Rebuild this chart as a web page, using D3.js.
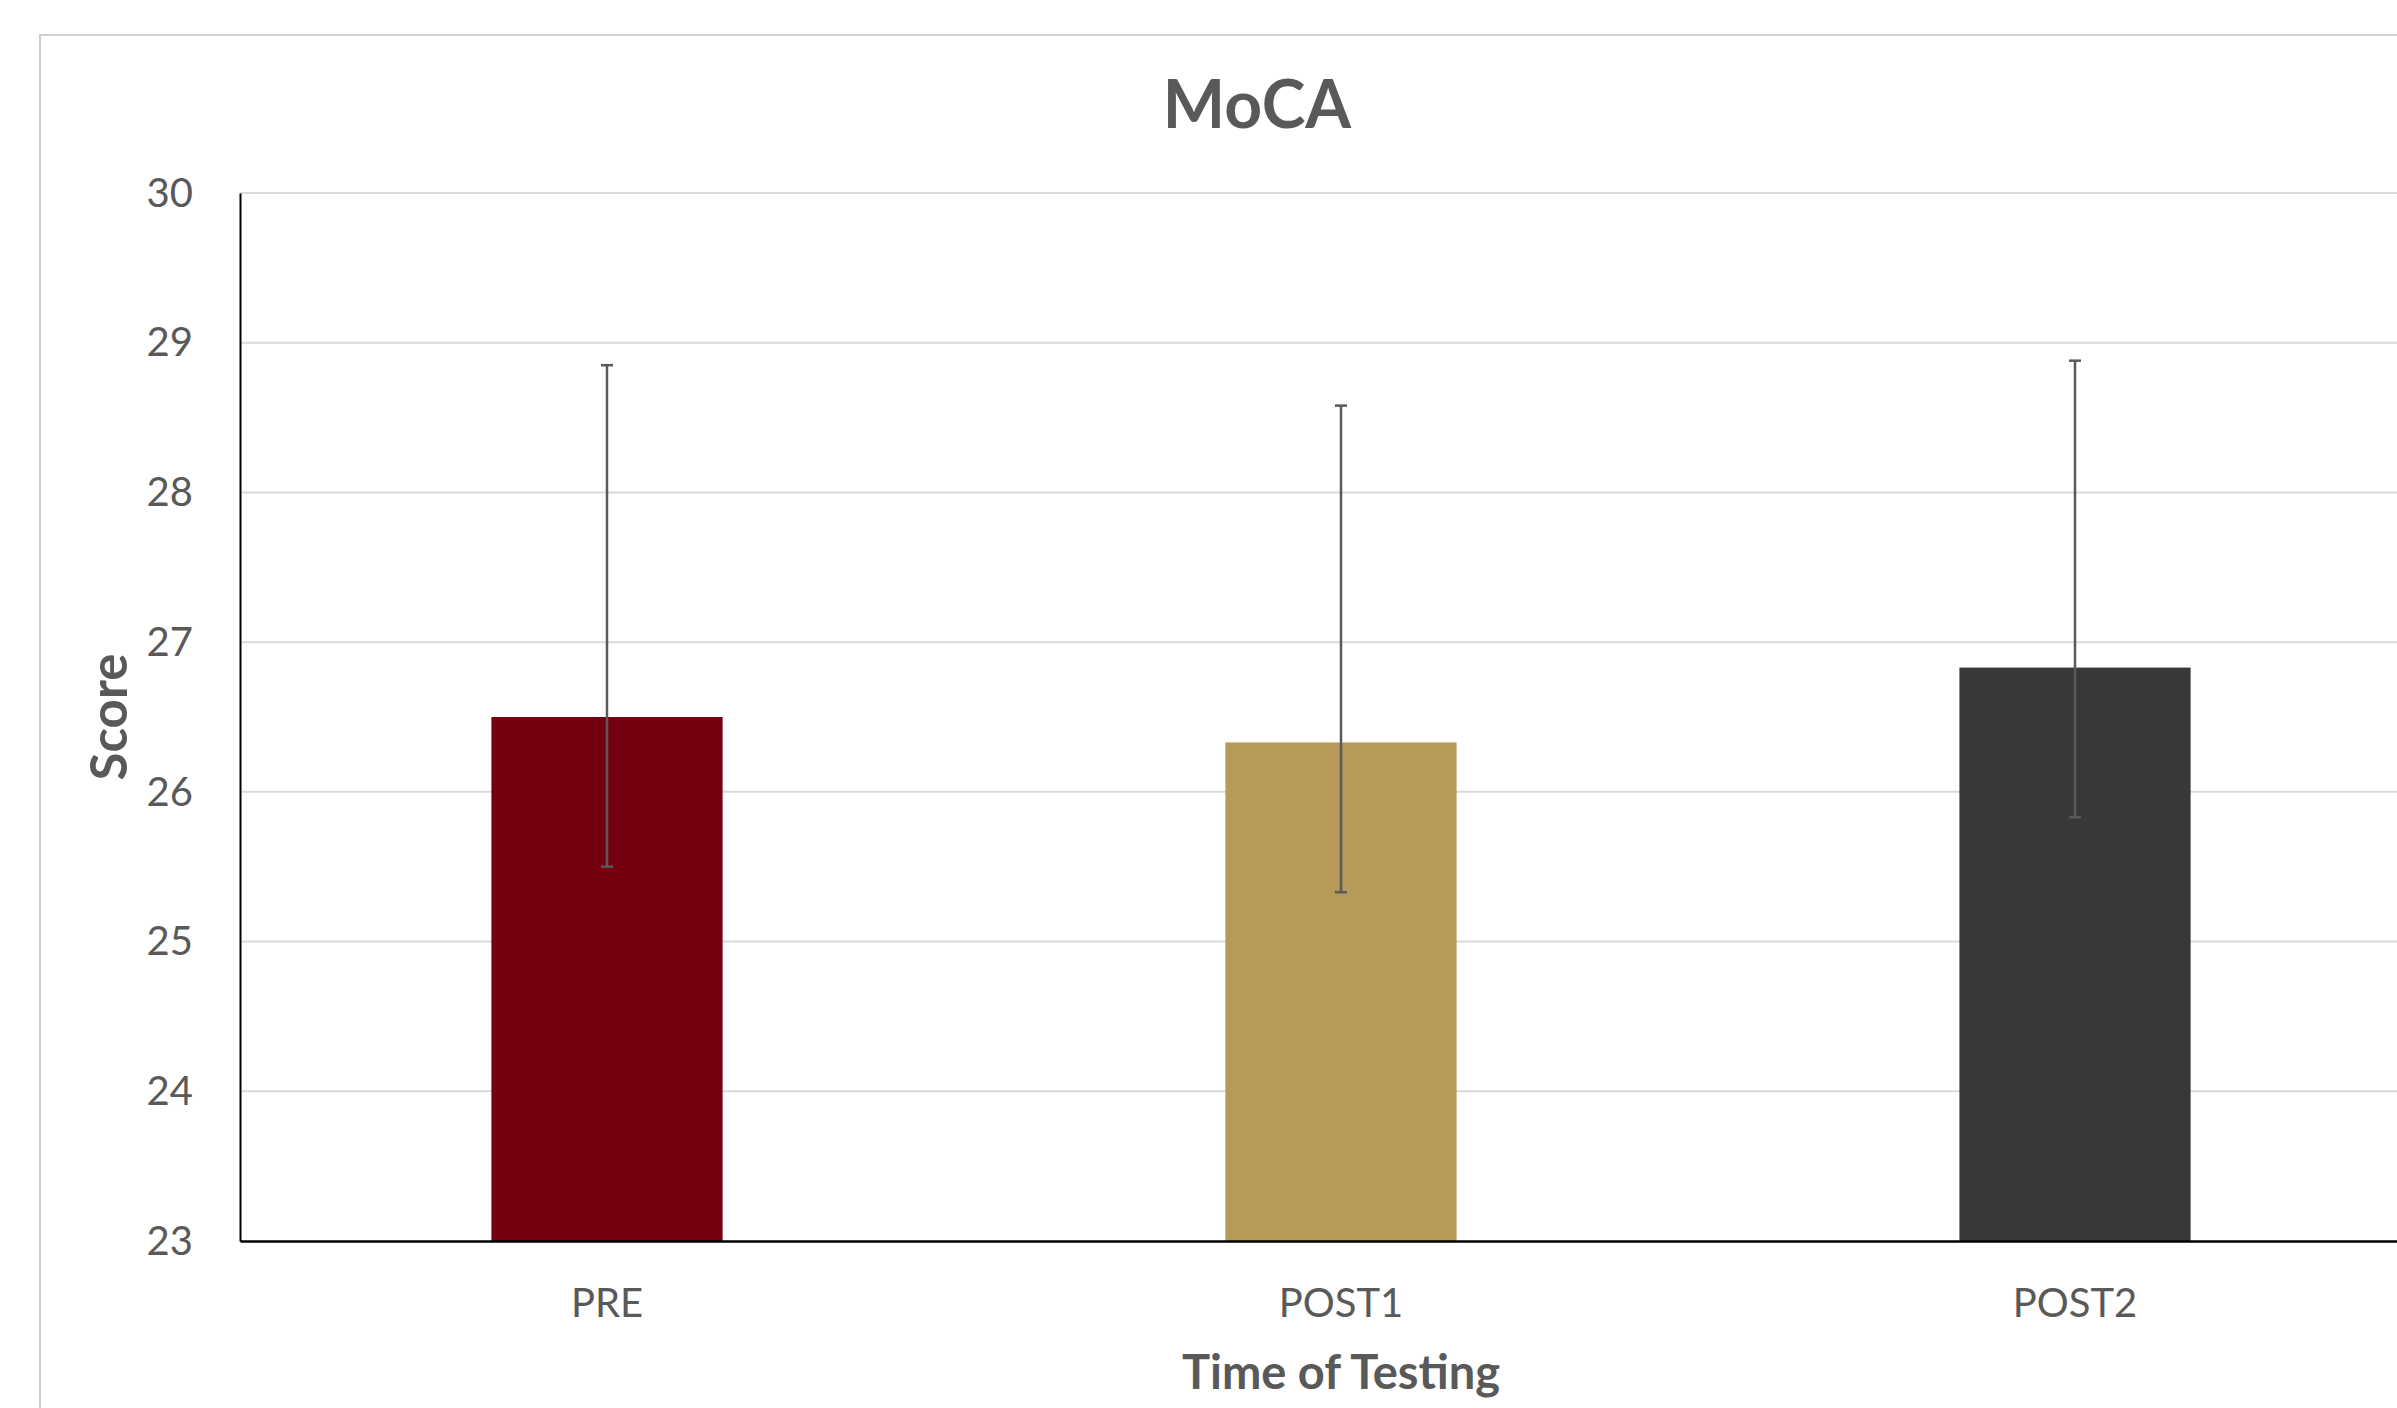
<!DOCTYPE html>
<html>
<head>
<meta charset="utf-8">
<script src="https://cdn.jsdelivr.net/npm/d3@7"></script>
<style>
  html, body { margin: 0; padding: 0; background: #fff; }
  svg { display: block; font-family: Lato, "Open Sans", sans-serif; }
</style>
</head>
<body>
<svg id="chart" width="2397" height="1408"></svg>
<script>
const categories = ["PRE", "POST1", "POST2"];
const means = [26.5, 26.33, 26.83];
const errUp = [2.35, 2.25, 2.05];
const errDown = [1.0, 1.0, 1.0];
const barColors = ["#740010", "#B59A58", "#3A3837"];
const yTicks = [23, 24, 25, 26, 27, 28, 29, 30];
const chartTitle = "MoCA";
const xTitle = "Time of Testing";
const yTitle = "Score";

const svg = d3.select("#chart");
const textColor = "#595959";

const plot = { left: 240, right: 2442, top: 193, bottom: 1241 };

// chart border (left and top visible)
svg.append("path")
  .attr("d", `M40,1410 L40,35 L2500,35`)
  .attr("fill", "none")
  .attr("stroke", "#cfcfcf")
  .attr("stroke-width", 2);

const x = d3.scaleBand()
  .domain(categories)
  .range([plot.left, plot.right])
  .paddingInner(0.685)
  .paddingOuter(0.3425);

const y = d3.scaleLinear()
  .domain([23, 30])
  .range([plot.bottom, plot.top]);

// gridlines
svg.append("g")
  .selectAll("line")
  .data(yTicks.filter(t => t !== 23))
  .join("line")
  .attr("x1", plot.left)
  .attr("x2", plot.right)
  .attr("y1", d => y(d))
  .attr("y2", d => y(d))
  .attr("stroke", "#d9d9d9")
  .attr("stroke-width", 2);

// bars
svg.append("g")
  .selectAll("rect")
  .data(categories)
  .join("rect")
  .attr("x", d => x(d))
  .attr("width", x.bandwidth())
  .attr("y", (d, i) => y(means[i]))
  .attr("height", (d, i) => y(23) - y(means[i]))
  .attr("fill", (d, i) => barColors[i]);

// error bars
const eb = svg.append("g")
  .attr("stroke", "#5a5a5a")
  .attr("stroke-width", 2.5);
categories.forEach((c, i) => {
  const cx = x(c) + x.bandwidth() / 2;
  const yHi = y(means[i] + errUp[i]);
  const yLo = y(means[i] - errDown[i]);
  eb.append("line").attr("x1", cx).attr("x2", cx).attr("y1", yHi).attr("y2", yLo);
  eb.append("line").attr("x1", cx - 6).attr("x2", cx + 6).attr("y1", yHi).attr("y2", yHi);
  eb.append("line").attr("x1", cx - 6).attr("x2", cx + 6).attr("y1", yLo).attr("y2", yLo);
});

// axes
const yAxis = d3.axisLeft(y).tickValues(yTicks).tickSize(0).tickPadding(47).tickFormat(d3.format("d"));
const gy = svg.append("g").attr("transform", `translate(${plot.left},0)`).call(yAxis);
gy.select(".domain").attr("stroke", "#000").attr("stroke-width", 2);
gy.selectAll("text")
  .attr("font-size", 40)
  .attr("fill", textColor)
  .attr("font-family", "Lato, sans-serif")
  .attr("dy", "0.33em");

const xAxis = d3.axisBottom(x).tickSize(0).tickPadding(48);
const gx = svg.append("g").attr("transform", `translate(0,${plot.bottom})`).call(xAxis);
gx.select(".domain").attr("stroke", "#000").attr("stroke-width", 2.5);
gx.selectAll("text")
  .attr("font-size", 40)
  .attr("fill", textColor)
  .attr("font-family", "Lato, sans-serif")
  .attr("dy", "0.71em");

// titles
svg.append("text")
  .attr("x", 1257)
  .attr("y", 128)
  .attr("text-anchor", "middle")
  .attr("font-size", 66)
  .attr("font-weight", "bold")
  .attr("fill", textColor)
  .text(chartTitle);

svg.append("text")
  .attr("x", (plot.left + plot.right) / 2)
  .attr("y", 1389)
  .attr("text-anchor", "middle")
  .attr("font-size", 47)
  .attr("font-weight", "bold")
  .attr("fill", textColor)
  .text(xTitle);

svg.append("text")
  .attr("transform", `translate(127,${(plot.top + plot.bottom) / 2}) rotate(-90)`)
  .attr("text-anchor", "middle")
  .attr("font-size", 51)
  .attr("font-weight", "bold")
  .attr("fill", textColor)
  .text(yTitle);
</script>
</body>
</html>
